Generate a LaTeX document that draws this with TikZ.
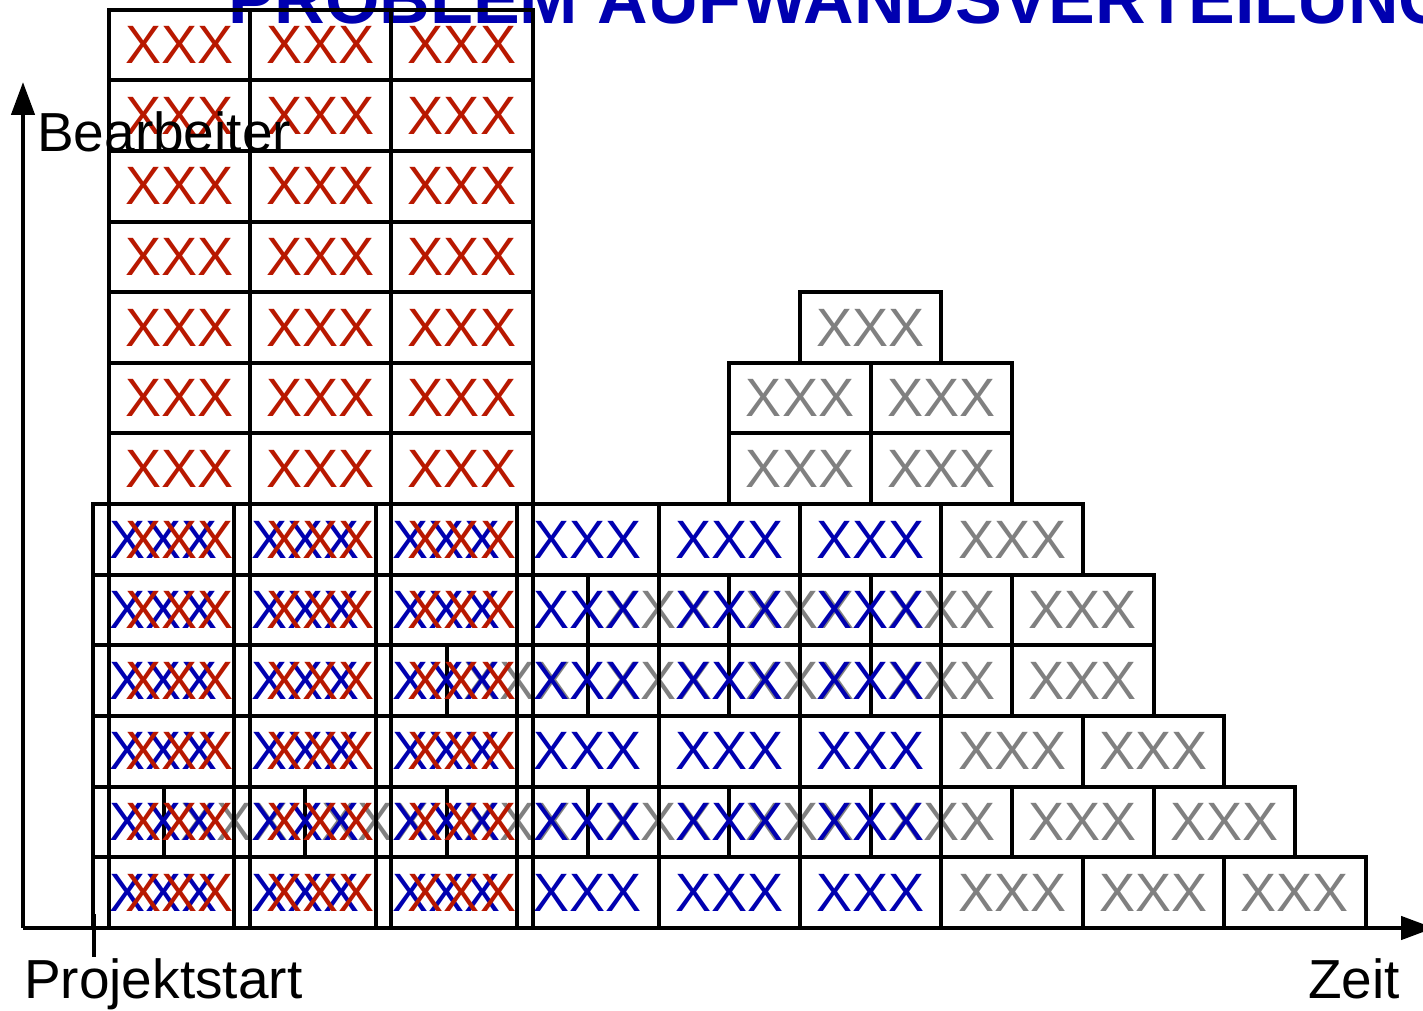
\documentclass[tikz,border=0pt]{standalone}
\usepackage{fontspec}
\setmainfont{Liberation Sans}
\usetikzlibrary{arrows.meta}
\definecolor{tblue}{RGB}{0,0,176}
\definecolor{tred}{RGB}{184,24,0}
\definecolor{tgray}{RGB}{128,128,128}
\begin{document}
\begin{tikzpicture}[x=1pt,y=-1pt,
  cell/.style={draw=black, line width=4pt, minimum width=141.4pt, minimum height=70.65pt, inner sep=0pt, font=\fontsize{54}{54}\selectfont},
  redcell/.style={cell, text=tred},
  bluecell/.style={cell, text=tblue},
  graycell/.style={cell, text=tgray},
  axis/.style={line width=4.5pt, draw=black},
  axtip/.style={-{Triangle[length=33pt,width=23pt]}},
  lbl/.style={inner sep=0pt, font=\fontsize{55}{55}\selectfont},
  title/.style={inner sep=0pt, text=tblue, font=\fontsize{70}{70}\selectfont\bfseries}
]
\useasboundingbox (0,0) rectangle (1423,1011);

% title (cut off at the top edge)
\node[title, anchor=base west] (title) at (228,24) {PROBLEM AUFWANDSVERTEILUNG};

% axes
\coordinate (origin) at (23,928);
\coordinate (ytip) at (23,82);
\coordinate (xtip) at (1434,928);
\coordinate (tickA) at (94,914);
\coordinate (tickB) at (94,957);
\draw[axis, axtip] (origin) -- (ytip);
\draw[axis, axtip] (origin) -- (xtip);
\draw[axis] (tickA) -- (tickB);

% gray layer
\foreach \k/\r in {5/8,6/5,6/2,7/2,6/0,7/0,8/0}
  \node[graycell] (gb-\k-\r) at ({163.7+\k*141.4},{928-(\r+0.5)*70.65}) {XXX};
\foreach \k/\r in {4/7,5/7,4/6,5/6,3/4,4/4,5/4,6/4,2/3,3/3,4/3,5/3,6/3,0/1,1/1,2/1,3/1,4/1,5/1,6/1,7/1}
  \node[graycell] (gh-\k-\r) at ({234.4+\k*141.4},{928-(\r+0.5)*70.65}) {XXX};

% blue layer
\foreach \k in {0,...,5}
  \foreach \r in {0,...,5}
    \node[bluecell] (b-\k-\r) at ({163.7+\k*141.4},{928-(\r+0.5)*70.65}) {XXX};

% red layer
\foreach \k in {0,1,2}
  \foreach \r in {0,...,12}
    \node[redcell] (r-\k-\r) at ({179.2+\k*141.4},{928-(\r+0.5)*70.65}) {XXX};

% labels
\node[lbl, anchor=base west] (bearb) at (37,152) {Bearbeiter};
\node[lbl, anchor=base west] (pstart) at (24,998) {Projektstart};
\node[lbl, anchor=base east] (zeit) at (1400,998) {Zeit};
\end{tikzpicture}
\end{document}
